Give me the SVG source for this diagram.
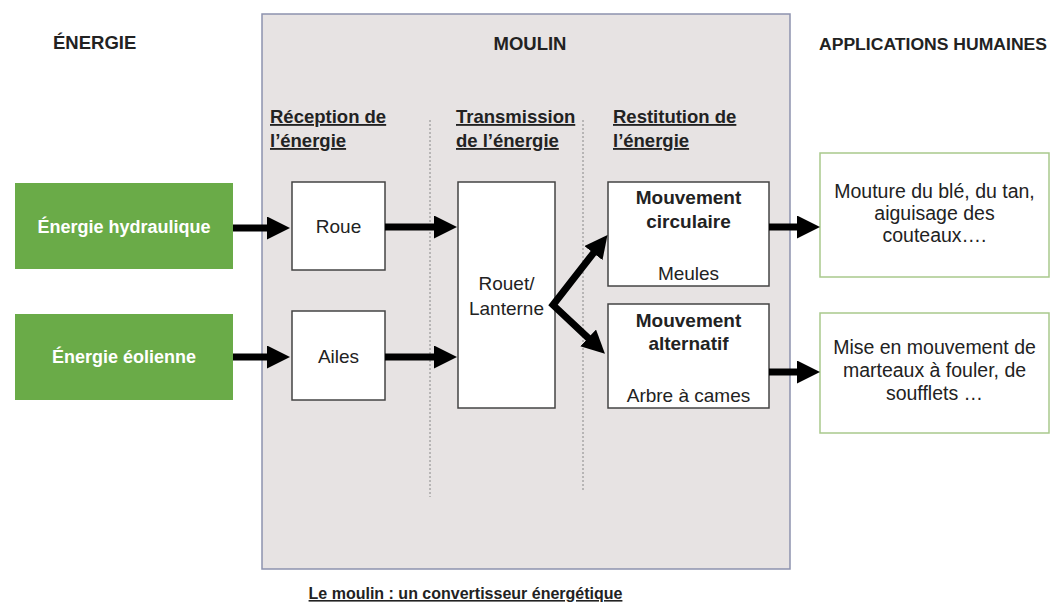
<svg xmlns="http://www.w3.org/2000/svg" width="1051" height="608" viewBox="0 0 1051 608">
<defs>
<style>
text{font-family:"Liberation Sans",Arial,sans-serif;fill:#222;}
.h{font-weight:bold;font-size:18.5px;}
.u{font-weight:bold;font-size:18.5px;text-decoration:underline;}
.g{font-weight:bold;font-size:18px;fill:#fff;text-anchor:middle;}
.b{font-size:19px;text-anchor:middle;}
.bb{font-size:19px;font-weight:bold;text-anchor:middle;}
.a{font-size:19.5px;text-anchor:middle;}
.box{fill:#fff;stroke:#444;stroke-width:1.5;}
.green{fill:#6aab48;}
.app{fill:#fff;stroke:#a9c98c;stroke-width:1.5;}
.arr{fill:none;stroke:#000;stroke-width:7;marker-end:url(#ah);}
.div{stroke:#888;stroke-width:1;stroke-dasharray:2,2;}
</style>
<marker id="ah" markerUnits="userSpaceOnUse" markerWidth="24" markerHeight="23" refX="1" refY="11.5" orient="auto">
<path d="M0,0 L23,11.5 L0,23 z" fill="#000"/>
</marker>
<marker id="ahs" markerUnits="userSpaceOnUse" markerWidth="24" markerHeight="23" refX="1" refY="11.5" orient="auto-start-reverse">
<path d="M0,0 L23,11.5 L0,23 z" fill="#000"/>
</marker>
</defs>
<rect width="1051" height="608" fill="#fff"/>

<g id="moulin">
<rect x="262" y="14" width="528" height="555" fill="#e7e3e3" stroke="#8d92ae" stroke-width="1.5"/>
<text class="h" x="530" y="50" text-anchor="middle">MOULIN</text>
<line class="div" x1="430" y1="120" x2="430" y2="497"/>
<line class="div" x1="583" y1="120" x2="583" y2="492"/>
<text class="u" x="270" y="123">Réception de</text>
<text class="u" x="270" y="147">l’énergie</text>
<text class="u" x="456" y="123">Transmission</text>
<text class="u" x="456" y="147">de l’énergie</text>
<text class="u" x="613" y="123">Restitution de</text>
<text class="u" x="613" y="147">l’énergie</text>
</g>

<g id="titles">
<text class="h" x="53" y="49">ÉNERGIE</text>
<text class="h" x="819" y="50" style="font-size:17.4px" textLength="228" lengthAdjust="spacingAndGlyphs">APPLICATIONS HUMAINES</text>
<text x="465.5" y="599" style="font-weight:bold;font-size:16px;text-decoration:underline" text-anchor="middle">Le moulin : un convertisseur énergétique</text>
</g>

<g id="hydraulique">
<rect class="green" x="15" y="183" width="218" height="86"/>
<text class="g" x="124" y="233">Énergie hydraulique</text>
</g>
<g id="eolienne">
<rect class="green" x="15" y="314" width="218" height="86"/>
<text class="g" x="124" y="363">Énergie éolienne</text>
</g>

<g id="roue">
<rect class="box" x="292" y="182" width="93" height="88"/>
<text class="b" x="338.5" y="233">Roue</text>
</g>
<g id="ailes">
<rect class="box" x="292" y="311" width="93" height="89"/>
<text class="b" x="338.5" y="363">Ailes</text>
</g>

<g id="rouet">
<rect class="box" x="458" y="182" width="97" height="226"/>
<text class="b" x="506.5" y="290">Rouet/</text>
<text class="b" x="506.5" y="315">Lanterne</text>
</g>

<g id="circulaire">
<rect class="box" x="608" y="182" width="161" height="104"/>
<text class="bb" x="688.5" y="204">Mouvement</text>
<text class="bb" x="688.5" y="228">circulaire</text>
<text class="b" x="688.5" y="280">Meules</text>
</g>
<g id="alternatif">
<rect class="box" x="608" y="304" width="161" height="104"/>
<text class="bb" x="688.5" y="327">Mouvement</text>
<text class="bb" x="688.5" y="350">alternatif</text>
<text class="b" x="688.5" y="402">Arbre à cames</text>
</g>

<g id="app1">
<rect class="app" x="820" y="153" width="229" height="124"/>
<text class="a" x="934.5" y="198">Mouture du blé, du tan,</text>
<text class="a" x="934.5" y="220">aiguisage des</text>
<text class="a" x="934.5" y="242">couteaux….</text>
</g>
<g id="app2">
<rect class="app" x="820" y="313" width="229" height="120"/>
<text class="a" x="934.5" y="354">Mise en mouvement de</text>
<text class="a" x="934.5" y="377">marteaux à fouler, de</text>
<text class="a" x="934.5" y="400">soufflets …</text>
</g>

<g id="connectors">
<path class="arr" d="M233,228 L268,228"/>
<path class="arr" d="M233,357 L268,357"/>
<path class="arr" d="M385,227 L435,227"/>
<path class="arr" d="M385,357 L435,357"/>
<path class="arr" d="M769,227 L798,227"/>
<path class="arr" d="M769,372 L798,372"/>
<path d="M594,252.3 L553,305 L588.9,338.6" fill="none" stroke="#000" stroke-width="7" stroke-linejoin="miter" marker-start="url(#ahs)" marker-end="url(#ah)"/>
</g>
</svg>
